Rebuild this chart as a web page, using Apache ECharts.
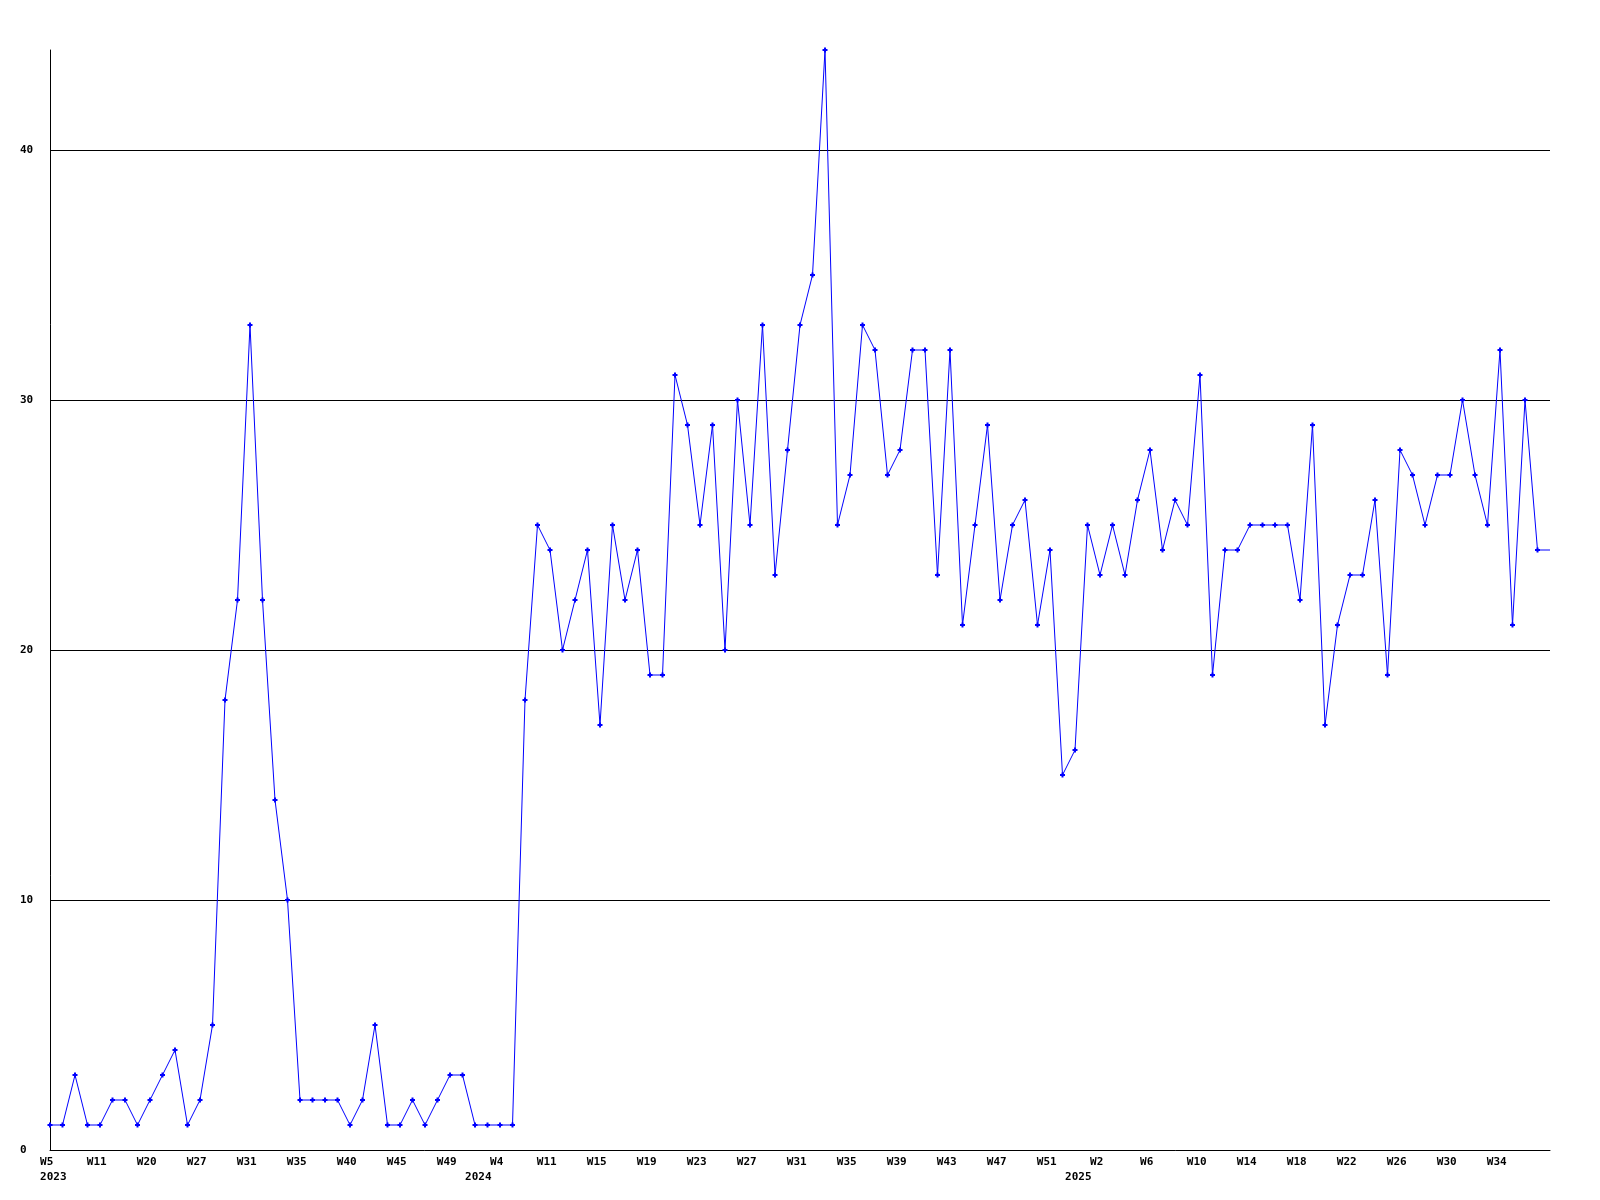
<!DOCTYPE html>
<html>
<head>
<meta charset="utf-8">
<title>Weekly chart</title>
<script src="https://cdn.jsdelivr.net/npm/echarts@6/dist/echarts.min.js"></script>
<style>
  html, body { margin: 0; padding: 0; background: #ffffff; }
  #myCharts { width: 1600px; height: 1200px; }
</style>
</head>
<body>
<div id="myCharts"></div>
<script>
// year + week of each point (only every 4th week is labelled on the axis)
var weeks = [
  "2023 W5", "2023 W6", "2023 W8", "2023 W10", "2023 W11", "2023 W13", "2023 W15", "2023 W17",
  "2023 W20", "2023 W22", "2023 W24", "2023 W25", "2023 W27", "2023 W28", "2023 W29", "2023 W30",
  "2023 W31", "2023 W32", "2023 W33", "2023 W34", "2023 W35", "2023 W36", "2023 W37", "2023 W38",
  "2023 W40", "2023 W41", "2023 W42", "2023 W43", "2023 W45", "2023 W46", "2023 W47", "2023 W48",
  "2023 W49", "2023 W50",
  "2024 W1", "2024 W3", "2024 W4", "2024 W6", "2024 W8", "2024 W10",
  "2024 W11", "2024 W12", "2024 W13", "2024 W14", "2024 W15", "2024 W16", "2024 W17", "2024 W18",
  "2024 W19", "2024 W20", "2024 W21", "2024 W22", "2024 W23", "2024 W24", "2024 W25", "2024 W26",
  "2024 W27", "2024 W28", "2024 W29", "2024 W30", "2024 W31", "2024 W32", "2024 W33", "2024 W34",
  "2024 W35", "2024 W36", "2024 W37", "2024 W38", "2024 W39", "2024 W40", "2024 W41", "2024 W42",
  "2024 W43", "2024 W44", "2024 W45", "2024 W46", "2024 W47", "2024 W48", "2024 W49", "2024 W50",
  "2024 W51", "2024 W52",
  "2025 W0", "2025 W1", "2025 W2", "2025 W3", "2025 W4", "2025 W5", "2025 W6", "2025 W7",
  "2025 W8", "2025 W9", "2025 W10", "2025 W11", "2025 W12", "2025 W13", "2025 W14", "2025 W15",
  "2025 W16", "2025 W17", "2025 W18", "2025 W19", "2025 W20", "2025 W21", "2025 W22", "2025 W23",
  "2025 W24", "2025 W25", "2025 W26", "2025 W27", "2025 W28", "2025 W29", "2025 W30", "2025 W31",
  "2025 W32", "2025 W33", "2025 W34", "2025 W35", "2025 W36", "2025 W37", "2025 W38"
];

var counts = [
  1, 1, 3, 1, 1, 2, 2, 1, 2, 3, 4, 1, 2, 5, 18, 22,
  33, 22, 14, 10, 2, 2, 2, 2, 1, 2, 5, 1, 1, 2, 1, 2,
  3, 3,
  1, 1, 1, 1, 18, 25,
  24, 20, 22, 24, 17, 25, 22, 24, 19, 19, 31, 29, 25, 29, 20, 30,
  25, 33, 23, 28, 33, 35, 44, 25, 27, 33, 32, 27, 28, 32, 32, 23,
  32, 21, 25, 29, 22, 25, 26, 21, 24, 15,
  16, 25, 23, 25, 23, 26, 28, 24, 26, 25, 31, 19, 24, 24, 25, 25,
  25, 25, 22, 29, 17, 21, 23, 23, 26, 19, 28, 27, 25, 27, 27, 30,
  27, 25, 32, 21, 30, 24, 24
];

var yTicks = [0, 10, 20, 30, 40];
var yMax = 44;

var font = "DejaVu Sans Mono";

function yearOf(i) { return weeks[i].split(" ")[0]; }
function weekOf(i) { return weeks[i].split(" ")[1]; }
function firstOfYear(i) { return i === 0 || yearOf(i) !== yearOf(i - 1); }

let myChart = echarts.init(document.getElementById("myCharts"));
const option = {
  backgroundColor: "#ffffff",
  animation: false,
  grid: { left: 50, right: 50, top: 50, bottom: 50 },
  xAxis: {
    type: "category",
    data: weeks,
    boundaryGap: false,
    axisLine: { lineStyle: { color: "#000000", width: 1 } },
    axisTick: { show: false },
    splitLine: { show: false },
    axisLabel: {
      interval: function (idx) {
        if (idx === weeks.length - 1) return false;
        return idx % 4 === 0 || firstOfYear(idx);
      },
      // week text sits a bit left of its point, year text a bit right
      formatter: function (val, idx) {
        var top = idx % 4 === 0 ? weekOf(idx) + " " : "";
        return firstOfYear(idx) ? top + "\n " + yearOf(idx) : top;
      },
      color: "#000000",
      fontFamily: font,
      fontWeight: "bold",
      fontSize: 11,
      lineHeight: 15,
      margin: 5
    }
  },
  yAxis: {
    type: "value",
    min: 0,
    max: yMax,
    interval: 10,
    axisLine: { show: true, lineStyle: { color: "#000000", width: 1 } },
    axisTick: { show: false },
    splitLine: {
      show: true,
      showMinLine: false,
      showMaxLine: false,
      lineStyle: { color: "#000000", width: 1 }
    },
    axisLabel: {
      showMaxLabel: false,
      formatter: function (v) { return yTicks.indexOf(v) >= 0 ? String(v) : ""; },
      align: "left",
      margin: 30,
      color: "#000000",
      fontFamily: font,
      fontWeight: "bold",
      fontSize: 11
    }
  },
  series: [
    {
      type: "line",
      data: counts.map(function (v, i) {
        // the last value only extends the line to the right edge, no marker
        return i === counts.length - 1 ? { value: v, symbol: "none" } : v;
      }),
      symbol: "path://M1.5,0h2v1.5h1.5v2h-1.5v1.5h-2v-1.5h-1.5v-2h1.5z",
      symbolSize: 5,
      showAllSymbol: true,
      itemStyle: { color: "#0000ff" },
      lineStyle: { color: "#0000ff", width: 1 },
      emphasis: { disabled: true }
    }
  ]
};
myChart.setOption(option);
</script>
</body>
</html>
